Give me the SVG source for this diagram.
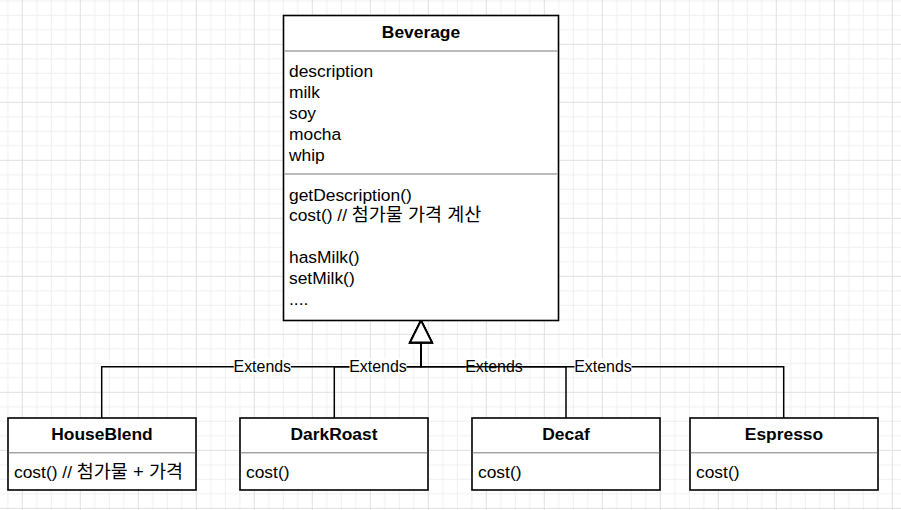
<svg xmlns="http://www.w3.org/2000/svg" width="901" height="510" viewBox="0 0 901 510">
<defs>
<pattern id="grid" patternUnits="userSpaceOnUse" x="21.8" y="43.8" width="58" height="58">
<path d="M15,0 V58 M29.5,0 V58 M44,0 V58 M0,15 H58 M0,29.5 H58 M0,44 H58" stroke="#efefef" stroke-width="1" fill="none"/>
<path d="M0.5,0 V58 M0,0.5 H58" stroke="#e0e0e0" stroke-width="1" fill="none"/>
</pattern>
<marker id="inherit" viewBox="-2 -13 26 26" markerWidth="26" markerHeight="26" refX="0" refY="0" markerUnits="userSpaceOnUse" orient="auto" overflow="visible">
<path d="M0,-11 L22,0 L0,11 Z" fill="#fff" stroke="#000" stroke-width="1.8"/>
</marker>
</defs>
<style>
.box{fill:#fff;stroke:#000;stroke-width:1.6}
.sep{stroke:#a6a6a6;stroke-width:1.5}
.title{font-family:"Liberation Sans",Arial,"Noto Sans CJK KR",sans-serif;font-size:17.4px;font-weight:bold;text-anchor:middle;fill:#000}
.item{font-family:"Liberation Sans",Arial,"Noto Sans CJK KR",sans-serif;font-size:17.4px;fill:#000}
.ko{font-size:18.5px}
.edge{fill:none;stroke:#000;stroke-width:1.5;marker-end:url(#inherit)}
.lblbg{fill:#fff}
.lbl{font-family:"Liberation Sans",Arial,sans-serif;font-size:15.95px;text-anchor:middle;fill:#000}
</style>
<rect width="901" height="510" fill="#fff"/>
<rect width="901" height="510" fill="url(#grid)"/>

<g id="connectors">
<g id="edge-houseblend">
<path class="edge" d="M101.7,418 V366.7 H421 V342.5"/>
<rect class="lblbg" x="233.8" y="358.5" width="57" height="16"/>
<text class="lbl" x="262.3" y="372">Extends</text>
</g>
<g id="edge-darkroast">
<path class="edge" d="M334.3,418 V366.7 H421 V342.5"/>
<rect class="lblbg" x="349.5" y="358.5" width="57" height="16"/>
<text class="lbl" x="378" y="372">Extends</text>
</g>
<g id="edge-decaf">
<path class="edge" d="M566,418 V366.7 H421 V342.5"/>
<rect class="lblbg" x="465.5" y="358.5" width="57" height="16"/>
<text class="lbl" x="494" y="372">Extends</text>
</g>
<g id="edge-espresso">
<path class="edge" d="M783.7,418 V366.7 H421 V342.5"/>
<rect class="lblbg" x="574.5" y="358.5" width="57" height="16"/>
<text class="lbl" x="603" y="372">Extends</text>
</g>
</g>

<g id="Beverage">
<rect class="box" x="283.5" y="15.5" width="275" height="305"/>
<line class="sep" x1="284.3" y1="51" x2="557.7" y2="51"/>
<line class="sep" x1="284.3" y1="174" x2="557.7" y2="174"/>
<text class="title" x="421" y="38">Beverage</text>
<text class="item" x="289" y="77">description</text>
<text class="item" x="289" y="97.9">milk</text>
<text class="item" x="289" y="118.8">soy</text>
<text class="item" x="289" y="139.6">mocha</text>
<text class="item" x="289" y="160.5">whip</text>
<text class="item" x="289" y="200.5">getDescription()</text>
<text class="item" x="289" y="221.4">cost() // <tspan class="ko">첨가물 가격 계산</tspan></text>
<text class="item" x="289" y="263.1">hasMilk()</text>
<text class="item" x="289" y="284">setMilk()</text>
<text class="item" x="289" y="304.9">....</text>
</g>

<g id="HouseBlend">
<rect class="box" x="8" y="418" width="188" height="72"/>
<line class="sep" x1="8.8" y1="452.7" x2="195.2" y2="452.7"/>
<text class="title" x="102" y="439.5">HouseBlend</text>
<text class="item" x="14" y="478">cost() // <tspan class="ko">첨가물 + 가격</tspan></text>
</g>

<g id="DarkRoast">
<rect class="box" x="240" y="418" width="188" height="72"/>
<line class="sep" x1="240.8" y1="452.7" x2="427.2" y2="452.7"/>
<text class="title" x="334" y="439.5">DarkRoast</text>
<text class="item" x="246" y="478">cost()</text>
</g>

<g id="Decaf">
<rect class="box" x="472" y="418" width="188" height="72"/>
<line class="sep" x1="472.8" y1="452.7" x2="659.2" y2="452.7"/>
<text class="title" x="566" y="439.5">Decaf</text>
<text class="item" x="478" y="478">cost()</text>
</g>

<g id="Espresso">
<rect class="box" x="690" y="418" width="188" height="72"/>
<line class="sep" x1="690.8" y1="452.7" x2="877.2" y2="452.7"/>
<text class="title" x="784" y="439.5">Espresso</text>
<text class="item" x="696" y="478">cost()</text>
</g>
</svg>
